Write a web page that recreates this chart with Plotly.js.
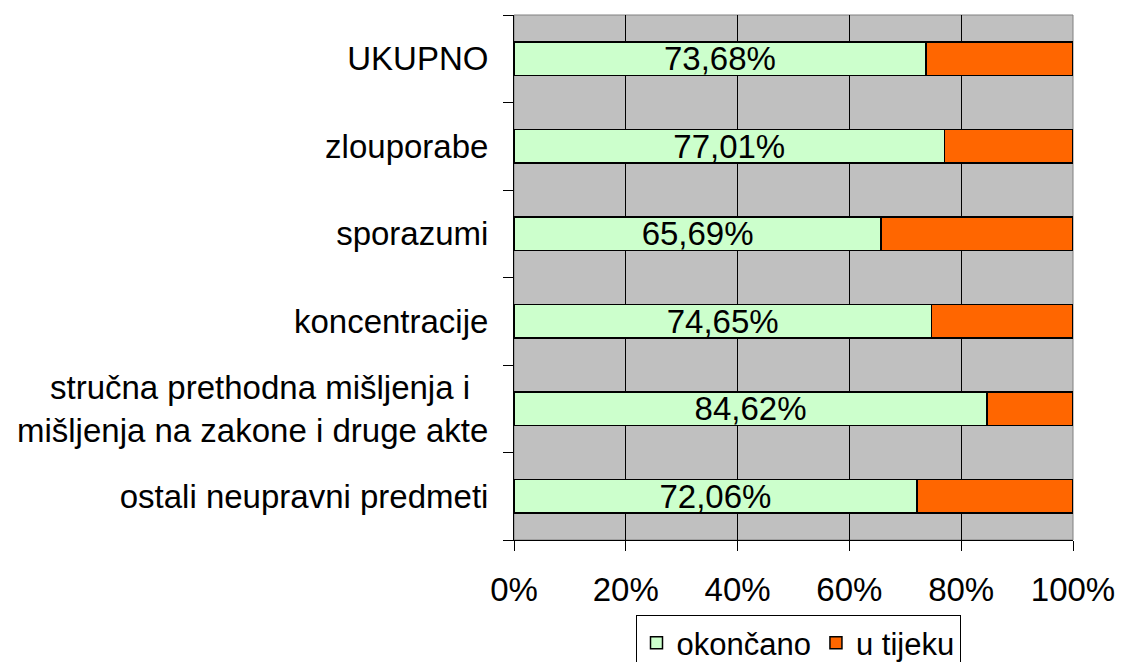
<!DOCTYPE html>
<html>
<head>
<meta charset="utf-8">
<script src="https://cdn.plot.ly/plotly-3.0.1.min.js"></script>
<style>html,body{margin:0;padding:0;background:#fff;}#chart{width:1121px;height:662px;}</style>
</head>
<body>
<div id="chart"></div>
<script>
// categories listed bottom-to-top
var categories = [
  "ostali neupravni predmeti",
  "stručna prethodna mišljenja i\u00a0\u00a0<br>mišljenja na zakone i druge akte",
  "koncentracije",
  "sporazumi",
  "zlouporabe",
  "UKUPNO"
];
var okoncano = [72.06, 84.62, 74.65, 65.69, 77.01, 73.68];
var uTijeku = [27.94, 15.38, 25.35, 34.31, 22.99, 26.32];
var seriesNames = ["okončano", "u tijeku"];
var xTickVals = [0, 20, 40, 60, 80, 100];
var xTickText = ["0%", "20%", "40%", "60%", "80%", "100%"];

var labels = okoncano.map(function(v){ return v.toFixed(2).replace('.', ',') + '%'; });

var FONT = "Liberation Sans, Arial, sans-serif";
var FS = 33;

var traces = [
  {
    type: 'bar', orientation: 'h', name: seriesNames[0],
    y: categories, x: okoncano,
    marker: {color: '#CCFFCC', line: {color: '#000000', width: 1.5}},
    text: labels, textposition: 'inside', insidetextanchor: 'middle',
    textfont: {family: FONT, size: FS, color: '#000000'},
    constraintext: 'none', hoverinfo: 'none'
  },
  {
    type: 'bar', orientation: 'h', name: seriesNames[1],
    y: categories, x: uTijeku,
    marker: {color: '#FF6600', line: {color: '#000000', width: 1.5}},
    hoverinfo: 'none'
  }
];

var layout = {
  width: 1121, height: 662,
  margin: {l: 514, r: 48, t: 15, b: 122, pad: 0, autoexpand: false},
  paper_bgcolor: '#FFFFFF',
  plot_bgcolor: '#C0C0C0',
  barmode: 'stack',
  bargap: 0.62,
  showlegend: true,
  font: {family: FONT, size: FS, color: '#000000'},
  xaxis: {
    range: [0, 100],
    tickvals: xTickVals, ticktext: xTickText,
    showgrid: true, gridcolor: '#000000', gridwidth: 1,
    zeroline: false,
    showline: true, linecolor: '#000000', linewidth: 1,
    ticks: 'outside', ticklen: 10, tickcolor: '#000000', tickwidth: 1,
    ticklabelstandoff: 10,
    tickfont: {family: FONT, size: FS, color: '#000000'},
    automargin: false,
    fixedrange: true
  },
  yaxis: {
    type: 'category',
    showgrid: false, zeroline: false,
    showline: true, linecolor: '#000000', linewidth: 1,
    ticks: 'outside', ticklen: 10, tickcolor: '#000000', tickwidth: 1,
    tickson: 'boundaries',
    ticklabelstandoff: 18,
    tickfont: {family: FONT, size: FS, color: '#000000'},
    automargin: false,
    fixedrange: true
  },
  legend: {
    orientation: 'h',
    xref: 'container', yref: 'container',
    x: 798 / 1121, xanchor: 'center',
    y: 1 - 615 / 662, yanchor: 'top',
    bordercolor: '#000000', borderwidth: 1,
    bgcolor: '#FFFFFF',
    font: {family: FONT, size: 31, color: '#000000'},
    traceorder: 'normal',
    itemwidth: 30
  },
  shapes: [
    {type: 'rect', xref: 'paper', yref: 'paper', x0: 0, x1: 1, y0: 0, y1: 1,
     line: {color: '#808080', width: 1}, fillcolor: 'rgba(0,0,0,0)', layer: 'below'}
  ]
};

Plotly.newPlot('chart', traces, layout, {displayModeBar: false, staticPlot: true});
</script>
</body>
</html>
